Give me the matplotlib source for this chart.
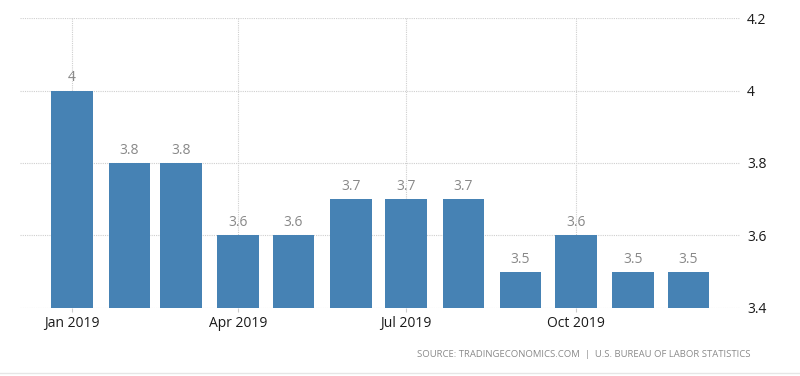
import matplotlib
matplotlib.use("Agg")
import matplotlib.pyplot as plt
import matplotlib.dates as mdates
import numpy as np
import pandas as pd

# Data
months = ["2019-01-01", "2019-02-01", "2019-03-01", "2019-04-01", "2019-05-01", "2019-06-01",
          "2019-07-01", "2019-08-01", "2019-09-01", "2019-10-01", "2019-11-01", "2019-12-01"]
values = [4.0, 3.8, 3.8, 3.6, 3.6, 3.7, 3.7, 3.7, 3.5, 3.6, 3.5, 3.5]
value_labels = ["4", "3.8", "3.8", "3.6", "3.6", "3.7", "3.7", "3.7", "3.5", "3.6", "3.5", "3.5"]
yticks = [3.4, 3.6, 3.8, 4.0, 4.2]
ytick_labels = ["3.4", "3.6", "3.8", "4", "4.2"]
xtick_dates = ["2019-01-01", "2019-04-01", "2019-07-01", "2019-10-01"]
xtick_labels = ["Jan 2019", "Apr 2019", "Jul 2019", "Oct 2019"]
source = "SOURCE: TRADINGECONOMICS.COM  |  U.S. BUREAU OF LABOR STATISTICS"

plt.rcParams["font.family"] = ["Open Sans", "DejaVu Sans"]

x = mdates.date2num(pd.to_datetime(months))
xt = mdates.date2num(pd.to_datetime(xtick_dates))

fig = plt.figure(figsize=(8, 3.76), dpi=100)
ax = fig.add_axes([0.025, 0.181, 0.90, 0.771])

bar_color = "#4682b4"
ax.bar(x, np.array(values) - 3.4, bottom=3.4, width=22.5, color=bar_color, zorder=3)

for xi, v, lab in zip(x, values, value_labels):
    ax.text(xi, v + 0.014, lab, ha="center", va="bottom", fontsize=10, color="#888888", zorder=4)

ax.set_ylim(3.4, 4.2)
ax.set_xlim(x[0] - 28.2, x[0] + 361.9)

ax.set_yticks(yticks)
ax.set_yticklabels(ytick_labels)
ax.yaxis.tick_right()
ax.set_xticks(xt)
ax.set_xticklabels(xtick_labels)

ax.tick_params(axis="y", length=0, pad=5, labelsize=10, labelcolor="#1a1a1a")
ax.tick_params(axis="x", length=3, color="#cccccc", pad=3, labelsize=10, labelcolor="#1a1a1a")

ax.grid(True, axis="both", linestyle=(0, (1, 1)), color="#cfcfcf", linewidth=0.8, zorder=0)
for s in ax.spines.values():
    s.set_visible(False)

fig.text(0.938, 0.058, source, ha="right", va="center", fontsize=6.8, color="#8a8a8a")
fig.add_artist(plt.Line2D([0, 1], [0.008, 0.008], color="#e6e6e6", linewidth=1))

fig.savefig("out.png", dpi=100, facecolor="white")
